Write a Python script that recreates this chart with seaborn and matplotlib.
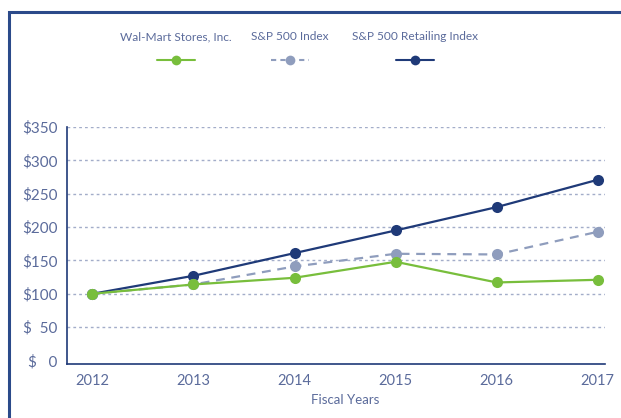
import numpy as np
import matplotlib.pyplot as plt
import pandas as pd
import seaborn as sns
from matplotlib.lines import Line2D
from matplotlib.patches import Rectangle

# data
years = [2012, 2013, 2014, 2015, 2016, 2017]
walmart = [100, 114, 124, 148, 117, 121]
sp500 = [100, 114, 141, 160, 159, 193]
sp_retail = [100, 127, 161, 195, 230, 271]
series_names = ["Wal-Mart Stores, Inc.", "S&P 500 Index", "S&P 500 Retailing Index"]
ytick_vals = [0, 50, 100, 150, 200, 250, 300, 350]
ytick_labels = ["$   0", "$  50", "$100", "$150", "$200", "$250", "$300", "$350"]

green = "#78be3c"
grey = "#8f9dbd"
navy = "#1f3a78"
text_col = "#5b6b9b"

sns.set_style("white")
plt.rcParams['font.family'] = ['Lato', 'DejaVu Sans']

fig = plt.figure(figsize=(6.21, 4.18), dpi=100)
ax = fig.add_axes([0.108, 0.1285, 0.866, 0.5675])

df = pd.DataFrame({"year": years, series_names[0]: walmart,
                   series_names[1]: sp500, series_names[2]: sp_retail})

# grid first
for v in ytick_vals[1:]:
    ax.axhline(v, color="#a3adc9", lw=1, ls=(0, (2, 2.2)), zorder=0)

sns.lineplot(data=df, x="year", y=series_names[2], ax=ax, color=navy, lw=1.6,
             marker="o", markersize=8, markeredgewidth=0, zorder=3)
sns.lineplot(data=df, x="year", y=series_names[1], ax=ax, color=grey, lw=1.6,
             linestyle=(0, (4, 3)), marker="o", markersize=8, markeredgewidth=0, zorder=4)
sns.lineplot(data=df, x="year", y=series_names[0], ax=ax, color=green, lw=1.6,
             marker="o", markersize=8, markeredgewidth=0, zorder=5)

ax.set_xlim(2011.75, 2017.07)
ax.set_ylim(-5.7, 350)
ax.set_xticks(years)
ax.set_xticklabels([str(y) for y in years])
ax.set_yticks(ytick_vals)
ax.set_yticklabels(ytick_labels)
ax.tick_params(axis="both", length=0, labelsize=11, colors=text_col)
ax.tick_params(axis="x", pad=7, labelsize=10.5)
ax.tick_params(axis="y", pad=7)
ax.set_xlabel("")
ax.set_ylabel("")
sns.despine(ax=ax, top=True, right=True)
for s in ["left", "bottom"]:
    ax.spines[s].set_color(navy)
    ax.spines[s].set_linewidth(1.2)

fig.text(345 / 621, 1 - 400 / 418, "Fiscal Years", ha="center", va="center",
         fontsize=9.5, color=text_col)

# legend: label above a short line with marker
leg_x = [176, 290, 415]
leg_styles = [(green, "-"), (grey, (0, (2.5, 2))), (navy, "-")]
for name, cx, (c, ls) in zip(series_names, leg_x, leg_styles):
    fig.text(cx / 621, 1 - 37 / 418, name, ha="center", va="center",
             fontsize=8.6, color=text_col)
    fx = cx / 621
    fy = 1 - 60 / 418
    fig.add_artist(Line2D([fx - 19 / 621, fx + 19 / 621], [fy, fy], color=c,
                          lw=1.5, ls=ls, transform=fig.transFigure))
    fig.add_artist(Line2D([fx], [fy], color=c, marker="o", markersize=7,
                          markeredgewidth=0, transform=fig.transFigure))

# outer frame
fig.add_artist(Rectangle((9 / 621, -0.05), 1.1, 1.05 - 12 / 418, fill=False,
                         edgecolor="#2b4a8a", lw=2.2, transform=fig.transFigure))

fig.savefig("out.png", dpi=100)
